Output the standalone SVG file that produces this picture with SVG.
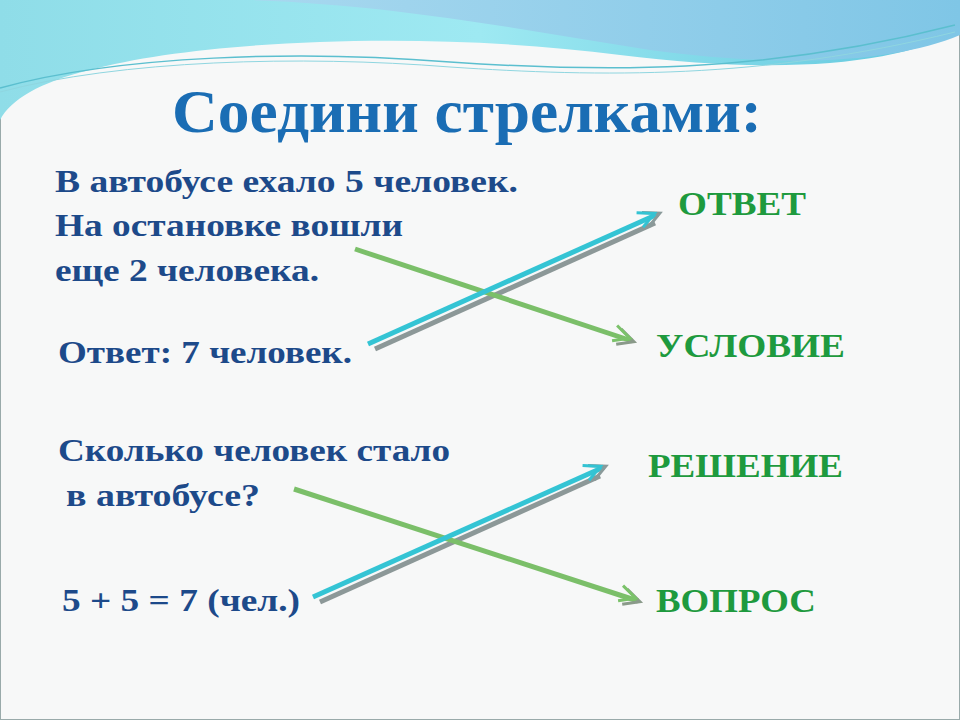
<svg xmlns="http://www.w3.org/2000/svg" width="960" height="720" viewBox="0 0 960 720">
<defs>
<linearGradient id="w1" x1="0" y1="0" x2="1" y2="0"><stop offset="0" stop-color="#8fdde8"/><stop offset="0.5" stop-color="#9ee9f2"/><stop offset="1" stop-color="#5fc6dd"/></linearGradient>
<linearGradient id="w2" x1="0" y1="0" x2="1" y2="0"><stop offset="0" stop-color="#a8d8ef"/><stop offset="1" stop-color="#7fc6e6"/></linearGradient>
<marker id="hg" viewBox="0 0 20 20" refX="16" refY="10" markerWidth="20" markerHeight="20" markerUnits="userSpaceOnUse" orient="auto" overflow="visible">
<path d="M2,2 L18,10 L2,18" fill="none" stroke="#8a9a8a" stroke-width="3"/><path d="M-3,0 L13,8 L-3,16" fill="none" stroke="#7bc26a" stroke-width="3"/></marker>
<marker id="hc" viewBox="0 0 20 20" refX="16" refY="10" markerWidth="20" markerHeight="20" markerUnits="userSpaceOnUse" orient="auto" overflow="visible">
<path d="M2,2 L18,10 L2,18" fill="none" stroke="#8a9a9a" stroke-width="3"/><path d="M-3,0 L13,8 L-3,16" fill="none" stroke="#33c3d3" stroke-width="3"/></marker>
</defs>
<style>
.t{font-family:"Liberation Serif",serif;font-weight:bold;font-size:31px;fill:#1d4a8a}
.r{font-family:"Liberation Serif",serif;font-weight:bold;font-size:34px;fill:#1e9a3e}
.sh{stroke:#8c9898;stroke-width:5;fill:none}
.g{stroke:#7bbf69;stroke-width:5;fill:none}
.c{stroke:#34c4d4;stroke-width:5;fill:none}
</style>
<rect width="960" height="720" fill="#f7f8f8"/>
<rect x="0.5" y="0.5" width="959" height="719" fill="none" stroke="#9aa" stroke-width="1"/>
<path d="M0,0 H960 V30 C900,65 780,75 620,55 C430,30 200,40 90,70 C40,82 10,100 0,120 Z" fill="url(#w1)"/>
<path d="M250,0 H960 V35 C900,60 800,70 650,50 C520,30 400,5 250,0 Z" fill="url(#w2)"/>
<path d="M0,88 C120,55 300,50 450,62 C600,72 760,75 955,25" fill="none" stroke="#5bbfcf" stroke-width="1.5"/>
<path d="M0,92 C120,60 300,55 450,67 C600,77 760,80 955,32" fill="none" stroke="#8fd6e0" stroke-width="1"/>
<text x="172" y="132" textLength="590" lengthAdjust="spacingAndGlyphs" font-family="Liberation Serif,serif" font-weight="bold" font-size="62" fill="#1a6db4">Соедини стрелками:</text>
<g id="n1"><text class="t" x="55" y="192" textLength="463" lengthAdjust="spacingAndGlyphs">В автобусе ехало 5 человек.</text><text class="t" x="55" y="236" textLength="348" lengthAdjust="spacingAndGlyphs">На остановке вошли</text><text class="t" x="55" y="281" textLength="264" lengthAdjust="spacingAndGlyphs">еще 2 человека.</text></g>
<g id="n2"><text class="t" x="58" y="363" textLength="294" lengthAdjust="spacingAndGlyphs">Ответ: 7 человек.</text></g>
<g id="n3"><text class="t" x="58" y="461" textLength="392" lengthAdjust="spacingAndGlyphs">Сколько человек стало</text><text class="t" x="66" y="506" textLength="194" lengthAdjust="spacingAndGlyphs">в автобусе?</text></g>
<g id="n4"><text class="t" x="62" y="611" textLength="238" lengthAdjust="spacingAndGlyphs">5 + 5 = 7 (чел.)</text></g>
<g id="n5"><text class="r" x="678" y="215" textLength="128" lengthAdjust="spacingAndGlyphs">ОТВЕТ</text></g>
<g id="n6"><text class="r" x="656" y="357" textLength="189" lengthAdjust="spacingAndGlyphs">УСЛОВИЕ</text></g>
<g id="n7"><text class="r" x="648" y="477" textLength="195" lengthAdjust="spacingAndGlyphs">РЕШЕНИЕ</text></g>
<g id="n8"><text class="r" x="656" y="612" textLength="160" lengthAdjust="spacingAndGlyphs">ВОПРОС</text></g>
<g id="connectors">
<line class="sh" x1="375" y1="349" x2="655" y2="223"/>
<line class="sh" x1="320" y1="602" x2="600" y2="476"/>
<line class="g" x1="355" y1="249" x2="632" y2="341" marker-end="url(#hg)"/>
<line class="c" x1="368" y1="344" x2="658" y2="214" marker-end="url(#hc)"/>
<line class="g" x1="294" y1="489" x2="638" y2="601" marker-end="url(#hg)"/>
<line class="c" x1="313" y1="597" x2="604" y2="467" marker-end="url(#hc)"/>
</g>
</svg>
